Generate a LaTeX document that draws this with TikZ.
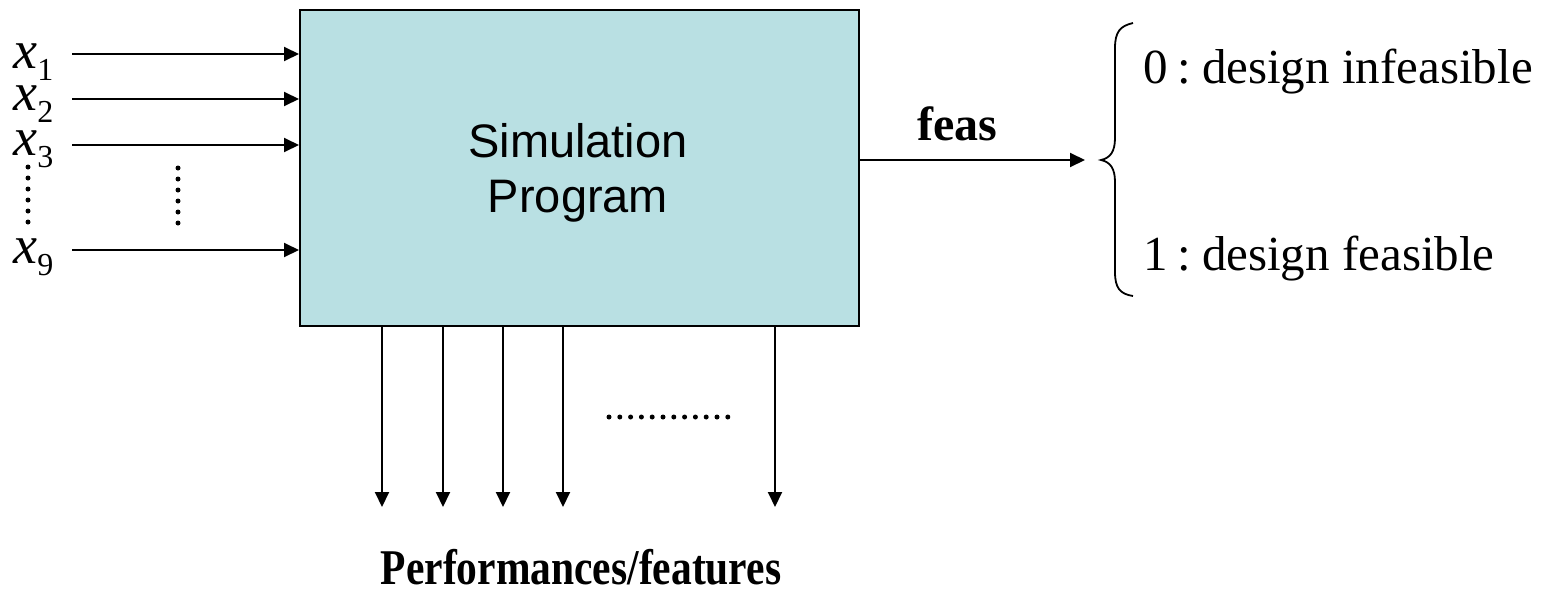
\documentclass[tikz,border=0pt]{standalone}
\usepackage{fontspec}
\setmainfont{Liberation Serif}
\setsansfont{Liberation Sans}
\usetikzlibrary{arrows.meta}
\definecolor{boxfill}{HTML}{B9E0E3}
\newcommand{\xlab}[1]{{\fontsize{27}{27}\selectfont\itshape x}\raisebox{-6pt}{\fontsize{16}{16}\selectfont #1}}
\begin{document}
\begin{tikzpicture}[x=0.5pt,y=-0.5pt,
  arr/.style={-{Triangle[length=7.5pt,width=7pt]}, line width=1pt},
  lab/.style={anchor=base west, inner sep=0pt},
  blk/.style={draw, line width=1pt, fill=boxfill, anchor=north west, inner sep=0pt}]
\useasboundingbox (0,0) rectangle (1560,595);
% main box
\node[blk, minimum width=279.5pt, minimum height=158pt] (sim) at (299,9) {};
\node[anchor=base, inner sep=0pt, font=\sffamily\fontsize{23.5}{23.5}\selectfont] (t1) at (578,157) {Simulation};
\node[anchor=base, inner sep=0pt, font=\sffamily\fontsize{23.5}{23.5}\selectfont] (t2) at (578,212) {Program};
% inputs
\node[lab] (x1) at (13,68) {\xlab{1}};
\node[lab] (x2) at (13,110) {\xlab{2}};
\node[lab] (x3) at (13,155) {\xlab{3}};
\node[lab] (x9) at (13,263) {\xlab{9}};
\coordinate (i1) at (72,54);
\coordinate (i2) at (72,99);
\coordinate (i3) at (72,145);
\coordinate (i9) at (72,250);
\foreach \c in {i1,i2,i3,i9} \draw[arr] (\c) -- (\c -| sim.west);
\foreach \i in {0,...,5} {
  \fill (28,167+11*\i) circle (1.25pt);
  \fill (178,168+11*\i) circle (1.25pt);
}
% outputs
\foreach \n/\xx in {o1/382,o2/443,o3/503,o4/563,o5/775} {
  \coordinate (\n) at (\xx,507);
  \draw[arr] (\n |- sim.south) -- (\n);
}
\foreach \i in {0,...,11} \fill (609+10.8*\i,417) circle (1.25pt);
\node[anchor=base, inner sep=0pt, font=\bfseries\fontsize{25}{25}\selectfont] (perf) at (581,584) {\scalebox{0.83}[1]{Performances/features}};
% feas
\coordinate (fe) at (1085,160);
\draw[arr] (sim.east |- fe) -- (fe);
\node[anchor=base, inner sep=0pt, font=\bfseries\fontsize{24}{24}\selectfont] (feas) at (957,140) {feas};
% brace
\draw[line width=0.9pt] (1133,23) .. controls (1120,26) and (1115,32) .. (1115,48)
  -- (1115,138) .. controls (1115,152) and (1110,158) .. (1101,160)
  .. controls (1110,162) and (1115,168) .. (1115,182)
  -- (1115,272) .. controls (1115,288) and (1120,294) .. (1133,296);
\node[lab, font=\fontsize{24.5}{24.5}\selectfont] (r0) at (1143,83) {0\hspace{0.2em}:\hspace{0.22em}design infeasible};
\node[lab, font=\fontsize{24.5}{24.5}\selectfont] (r1) at (1143,270) {1\hspace{0.2em}:\hspace{0.22em}design feasible};
\end{tikzpicture}
\end{document}
